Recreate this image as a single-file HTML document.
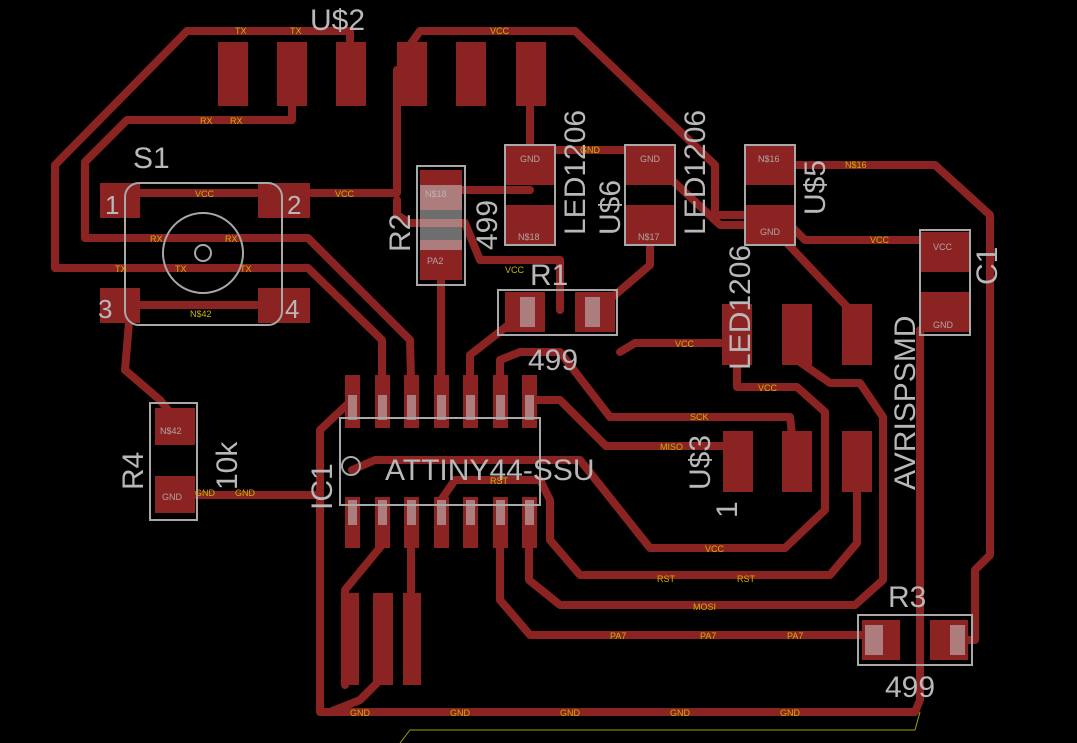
<!DOCTYPE html>
<html><head><style>
html,body{margin:0;padding:0;background:#000;width:1077px;height:743px;overflow:hidden}
svg{display:block}
.t{fill:none;stroke:#8c2323;stroke-width:8;stroke-linejoin:round;stroke-linecap:round}
.p{fill:#8c2323}
.g{fill:#b8b8b8;font-family:"Liberation Sans",sans-serif}
.y{fill:#c8b400;font-family:"Liberation Sans",sans-serif;font-size:9px}
.s{fill:#c0c0c0;font-family:"Liberation Sans",sans-serif;font-size:9px;opacity:.8}
.o{fill:none;stroke:#a8a8a8;stroke-width:2}
.w{fill:#c8c8c8;opacity:.55}
</style></head><body>
<svg width="1077" height="743" viewBox="0 0 1077 743">
<g class="t">
<!-- TX -->
<polyline points="350,70 350,31 187,31 55,165 55,268 308,268 382,340 382,380"/>
<!-- RX -->
<polyline points="292,80 292,120 127,120 85,162 85,238 308,238 410,340 411,380"/>
<!-- VCC top -->
<polyline points="410,75 410,45 420,31 575,31 715,165 715,215 770,215"/>
<polyline points="397,70 397,193 300,193"/>
<polyline points="140,193 300,193"/>
<polyline points="397,200 397,215 410,223 465,223 480,260 560,260 560,310"/>
<!-- GND top -->
<polyline points="530,80 530,150 640,150 720,225 770,225 850,310 855,330"/>
<!-- N$16 -->
<polyline points="770,165 935,165 990,215 990,555 975,570 975,640 950,640"/>
<polyline points="790,225 805,240 945,240 945,260"/>
<!-- C1 GND -->
<polyline points="945,320 920,330 920,700 915,712 320,712 320,430 352,400"/>
<!-- PA2 -->
<polyline points="441,270 441,380"/>
<!-- PA3 -->
<polyline points="525,312 470,355 470,380"/>
<!-- N$17 -->
<polyline points="595,312 650,265 650,215"/>
<!-- SCK -->
<polyline points="500,380 500,360 520,352 560,352 610,417 790,417 795,460"/>
<!-- VCC right -->
<polyline points="620,352 635,343 737,343"/>
<polyline points="737,340 737,387 797,387 825,412 825,510 785,548 650,548 580,460 375,460 352,470"/>
<!-- MISO -->
<polyline points="529,400 560,400 606,446 735,446"/>
<!-- RST -->
<polyline points="441,500 455,480 540,480 550,500 550,540 580,575 830,575 857,543 857,480"/>
<!-- MOSI -->
<polyline points="529,520 529,580 560,605 855,605 883,580 883,417 860,383 830,383 797,360"/>
<!-- PA7 -->
<polyline points="500,520 500,600 530,635 880,635"/>
<!-- N$4 -->
<polyline points="382,520 382,545 345,590 345,685"/>
<!-- N$3 -->
<polyline points="411,520 411,600"/>
<!-- GND bottom -->
<polyline points="380,600 380,680 360,700 330,712"/>
<!-- GND R4 -->
<polyline points="176,495 320,495"/>
<!-- N$42 -->
<polyline points="120,305 300,305"/>
<polyline points="130,310 125,370 160,400 176,420"/>
<!-- N$18 -->
<polyline points="441,190 530,190"/>
</g>
<!-- pads -->
<g class="p">
<rect x="218" y="42" width="30" height="64"/><rect x="277" y="42" width="30" height="64"/><rect x="336" y="42" width="30" height="64"/>
<rect x="397" y="42" width="30" height="64"/><rect x="456" y="42" width="30" height="64"/><rect x="516" y="42" width="30" height="64"/>
<rect x="100" y="183" width="40" height="35"/><rect x="258" y="183" width="52" height="35"/>
<rect x="100" y="288" width="40" height="35"/><rect x="258" y="288" width="52" height="35"/>
<rect x="420" y="170" width="42" height="40"/><rect x="420" y="240" width="42" height="40"/>
<rect x="505" y="145" width="50" height="40"/><rect x="505" y="205" width="50" height="40"/>
<rect x="625" y="145" width="50" height="40"/><rect x="625" y="205" width="50" height="40"/>
<rect x="745" y="145" width="50" height="40"/><rect x="745" y="205" width="50" height="40"/>
<rect x="920" y="232" width="50" height="40"/><rect x="920" y="292" width="50" height="40"/>
<rect x="505" y="292" width="40" height="40"/><rect x="575" y="292" width="40" height="40"/>
<rect x="155" y="408" width="40" height="37"/><rect x="155" y="476" width="40" height="37"/>
<rect x="862" y="620" width="38" height="40"/><rect x="930" y="620" width="38" height="40"/>
<rect x="722" y="304" width="30" height="61"/><rect x="782" y="304" width="30" height="61"/><rect x="842" y="304" width="30" height="61"/>
<rect x="723" y="431" width="30" height="61"/><rect x="782" y="431" width="30" height="61"/><rect x="842" y="431" width="30" height="61"/>
<rect x="343" y="593" width="16" height="92"/><rect x="373" y="593" width="20" height="92"/><rect x="403" y="593" width="18" height="92"/>
<rect x="345" y="375" width="15" height="53"/><rect x="375" y="375" width="15" height="53"/><rect x="404" y="375" width="15" height="53"/><rect x="434" y="375" width="15" height="53"/><rect x="463" y="375" width="15" height="53"/><rect x="493" y="375" width="15" height="53"/><rect x="522" y="375" width="15" height="53"/>
<rect x="345" y="497" width="15" height="51"/><rect x="375" y="497" width="15" height="51"/><rect x="404" y="497" width="15" height="51"/><rect x="434" y="497" width="15" height="51"/><rect x="463" y="497" width="15" height="51"/><rect x="493" y="497" width="15" height="51"/><rect x="522" y="497" width="15" height="51"/>
</g>
<g class="w">
<rect x="348" y="395" width="9" height="25"/><rect x="378" y="395" width="9" height="25"/><rect x="407" y="395" width="9" height="25"/><rect x="437" y="395" width="9" height="25"/><rect x="466" y="395" width="9" height="25"/><rect x="496" y="395" width="9" height="25"/><rect x="525" y="395" width="9" height="25"/>
<rect x="348" y="500" width="9" height="25"/><rect x="378" y="500" width="9" height="25"/><rect x="407" y="500" width="9" height="25"/><rect x="437" y="500" width="9" height="25"/><rect x="466" y="500" width="9" height="25"/><rect x="496" y="500" width="9" height="25"/><rect x="525" y="500" width="9" height="25"/>
<rect x="420" y="185" width="42" height="65"/><rect x="520" y="297" width="15" height="30"/><rect x="585" y="297" width="15" height="30"/>
<rect x="865" y="625" width="18" height="30"/><rect x="950" y="625" width="15" height="30"/>
</g>
<!-- outlines -->
<g class="o">
<rect x="340" y="418" width="200" height="87"/>
<circle cx="351" cy="466" r="9"/>
<rect x="125" y="183" width="157" height="142" rx="14"/>
<circle cx="203" cy="253" r="40"/><circle cx="203" cy="253" r="8"/>
<rect x="417" y="166" width="48" height="119"/>
<rect x="498" y="290" width="119" height="45"/>
<rect x="150" y="403" width="47" height="117"/>
<rect x="858" y="615" width="114" height="50"/>
<rect x="505" y="145" width="50" height="100"/><rect x="625" y="145" width="50" height="100"/><rect x="745" y="145" width="50" height="100"/>
<rect x="920" y="230" width="50" height="105"/>
</g>
<polyline points="400,743 410,730 915,730 920,712" fill="none" stroke="#a0a000" stroke-width="1"/>
<!-- big labels -->
<g class="g" font-size="30">
<text x="310" y="30">U$2</text>
<text x="133" y="168">S1</text>
<text x="105" y="214" font-size="26">1</text><text x="287" y="214" font-size="26">2</text>
<text x="98" y="318" font-size="26">3</text><text x="285" y="318" font-size="26">4</text>
<text x="385" y="480">ATTINY44-SSU</text>
<text x="530" y="285">R1</text>
<text x="528" y="370">499</text>
<text x="888" y="607">R3</text>
<text x="885" y="697">499</text>
<text transform="translate(410,252) rotate(-90)">R2</text>
<text transform="translate(497,250) rotate(-90)">499</text>
<text transform="translate(143,490) rotate(-90)">R4</text>
<text transform="translate(237,490) rotate(-90)">10k</text>
<text transform="translate(332,510) rotate(-90)">IC1</text>
<text transform="translate(585,235) rotate(-90)">LED1206</text>
<text transform="translate(620,235) rotate(-90)">U$6</text>
<text transform="translate(705,235) rotate(-90)">LED1206</text>
<text transform="translate(825,215) rotate(-90)">U$5</text>
<text transform="translate(750,370) rotate(-90)">LED1206</text>
<text transform="translate(915,490) rotate(-90)">AVRISPSMD</text>
<text transform="translate(997,285) rotate(-90)">C1</text>
<text transform="translate(710,490) rotate(-90)">U$3</text>
<text transform="translate(737,518) rotate(-90)">1</text>
</g>
<g class="s">
<text x="520" y="162">GND</text><text x="640" y="162">GND</text><text x="758" y="162">N$16</text>
<text x="518" y="240">N$18</text><text x="638" y="240">N$17</text><text x="760" y="235">GND</text>
<text x="933" y="250">VCC</text><text x="933" y="328">GND</text>
<text x="160" y="434">N$42</text><text x="162" y="500">GND</text>
<text x="425" y="197">N$18</text><text x="427" y="264">PA2</text>
</g>
<g class="y">
<text x="235" y="34">TX</text><text x="290" y="34">TX</text><text x="490" y="34">VCC</text><text x="195" y="496">GND</text><text x="235" y="496">GND</text>
<text x="230" y="124">RX</text><text x="200" y="124">RX</text><text x="195" y="197">VCC</text><text x="335" y="197">VCC</text>
<text x="150" y="242">RX</text><text x="225" y="242">RX</text>
<text x="115" y="272">TX</text><text x="175" y="272">TX</text><text x="240" y="272">TX</text><text x="190" y="317">N$42</text>
<text x="505" y="273">VCC</text><text x="580" y="153">GND</text><text x="845" y="168">N$16</text><text x="870" y="243">VCC</text>
<text x="675" y="347">VCC</text><text x="758" y="391">VCC</text><text x="690" y="420">SCK</text><text x="660" y="450">MISO</text>
<text x="490" y="484">RST</text><text x="705" y="552">VCC</text><text x="657" y="582">RST</text><text x="737" y="582">RST</text>
<text x="693" y="610">MOSI</text><text x="610" y="639">PA7</text><text x="700" y="639">PA7</text><text x="787" y="639">PA7</text>
<text x="350" y="716">GND</text><text x="450" y="716">GND</text><text x="560" y="716">GND</text><text x="670" y="716">GND</text><text x="780" y="716">GND</text>
</g>
</svg>
</body></html>
